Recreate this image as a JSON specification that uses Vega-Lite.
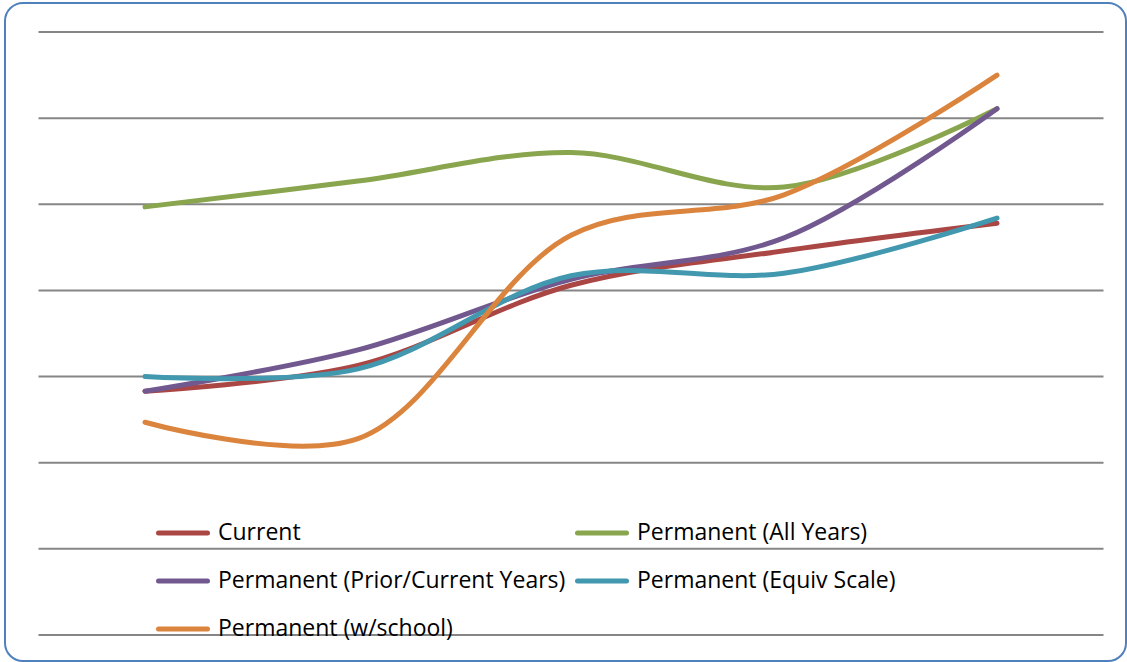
{
  "$schema": "https://vega.github.io/schema/vega-lite/v6.json",
  "width": 1121,
  "height": 658,
  "autosize": {"type": "none"},
  "padding": {"left": 5, "top": 3, "right": 1, "bottom": 1},
  "background": "white",
  "config": {
    "view": {"stroke": "#4F81BD", "strokeWidth": 2, "cornerRadius": 18, "fill": "white"}
  },
  "datasets": {
    "series": [
      {"series": "Current", "point": 1, "value": 2.83},
      {"series": "Current", "point": 2, "value": 3.13},
      {"series": "Current", "point": 3, "value": 4.06},
      {"series": "Current", "point": 4, "value": 4.46},
      {"series": "Current", "point": 5, "value": 4.78},
      {"series": "Permanent (All Years)", "point": 1, "value": 4.97},
      {"series": "Permanent (All Years)", "point": 2, "value": 5.27},
      {"series": "Permanent (All Years)", "point": 3, "value": 5.6},
      {"series": "Permanent (All Years)", "point": 4, "value": 5.2},
      {"series": "Permanent (All Years)", "point": 5, "value": 6.11},
      {"series": "Permanent (Prior/Current Years)", "point": 1, "value": 2.83},
      {"series": "Permanent (Prior/Current Years)", "point": 2, "value": 3.31},
      {"series": "Permanent (Prior/Current Years)", "point": 3, "value": 4.13},
      {"series": "Permanent (Prior/Current Years)", "point": 4, "value": 4.61},
      {"series": "Permanent (Prior/Current Years)", "point": 5, "value": 6.11},
      {"series": "Permanent (Equiv Scale)", "point": 1, "value": 3.0},
      {"series": "Permanent (Equiv Scale)", "point": 2, "value": 3.09},
      {"series": "Permanent (Equiv Scale)", "point": 3, "value": 4.17},
      {"series": "Permanent (Equiv Scale)", "point": 4, "value": 4.2},
      {"series": "Permanent (Equiv Scale)", "point": 5, "value": 4.84},
      {"series": "Permanent (w/school)", "point": 1, "value": 2.47},
      {"series": "Permanent (w/school)", "point": 2, "value": 2.28},
      {"series": "Permanent (w/school)", "point": 3, "value": 4.64},
      {"series": "Permanent (w/school)", "point": 4, "value": 5.11},
      {"series": "Permanent (w/school)", "point": 5, "value": 6.5}
    ],
    "grid": [
      {"tick": 0}, {"tick": 1}, {"tick": 2}, {"tick": 3},
      {"tick": 4}, {"tick": 5}, {"tick": 6}, {"tick": 7}
    ]
  },
  "layer": [
    {
      "data": {"name": "grid"},
      "mark": {"type": "rule", "color": "#868686", "strokeWidth": 2},
      "encoding": {
        "x": {"datum": 0.5, "type": "quantitative", "scale": {"domain": [0.3427, 5.6056], "nice": false, "zero": false}, "axis": null},
        "x2": {"datum": 5.5},
        "y": {"field": "tick", "type": "quantitative", "scale": {"domain": [-0.302, 7.337], "nice": false, "zero": false}, "axis": null}
      }
    },
    {
      "data": {"name": "series"},
      "mark": {"type": "line", "interpolate": "catmull-rom", "strokeWidth": 5, "strokeCap": "round", "strokeJoin": "round"},
      "encoding": {
        "x": {"field": "point", "type": "quantitative", "axis": null},
        "y": {"field": "value", "type": "quantitative", "axis": null},
        "color": {
          "field": "series",
          "type": "nominal",
          "scale": {
            "domain": ["Current", "Permanent (All Years)", "Permanent (Prior/Current Years)", "Permanent (Equiv Scale)", "Permanent (w/school)"],
            "range": ["#AA4643", "#89A54E", "#71588F", "#4198AF", "#DB843D"]
          },
          "legend": {
            "title": null,
            "orient": "none",
            "legendX": 151,
            "legendY": 503,
            "direction": "horizontal",
            "columns": 2,
            "symbolType": "stroke",
            "symbolSize": 2401,
            "symbolStrokeWidth": 5,
            "labelFont": "Open Sans",
            "labelFontSize": 23,
            "labelColor": "#000000",
            "labelLimit": 600,
            "labelOffset": 8,
            "columnPadding": 1,
            "rowPadding": 9,
            "encode": {"symbols": {"update": {"strokeCap": {"value": "round"}}}}
          }
        }
      }
    }
  ]
}
